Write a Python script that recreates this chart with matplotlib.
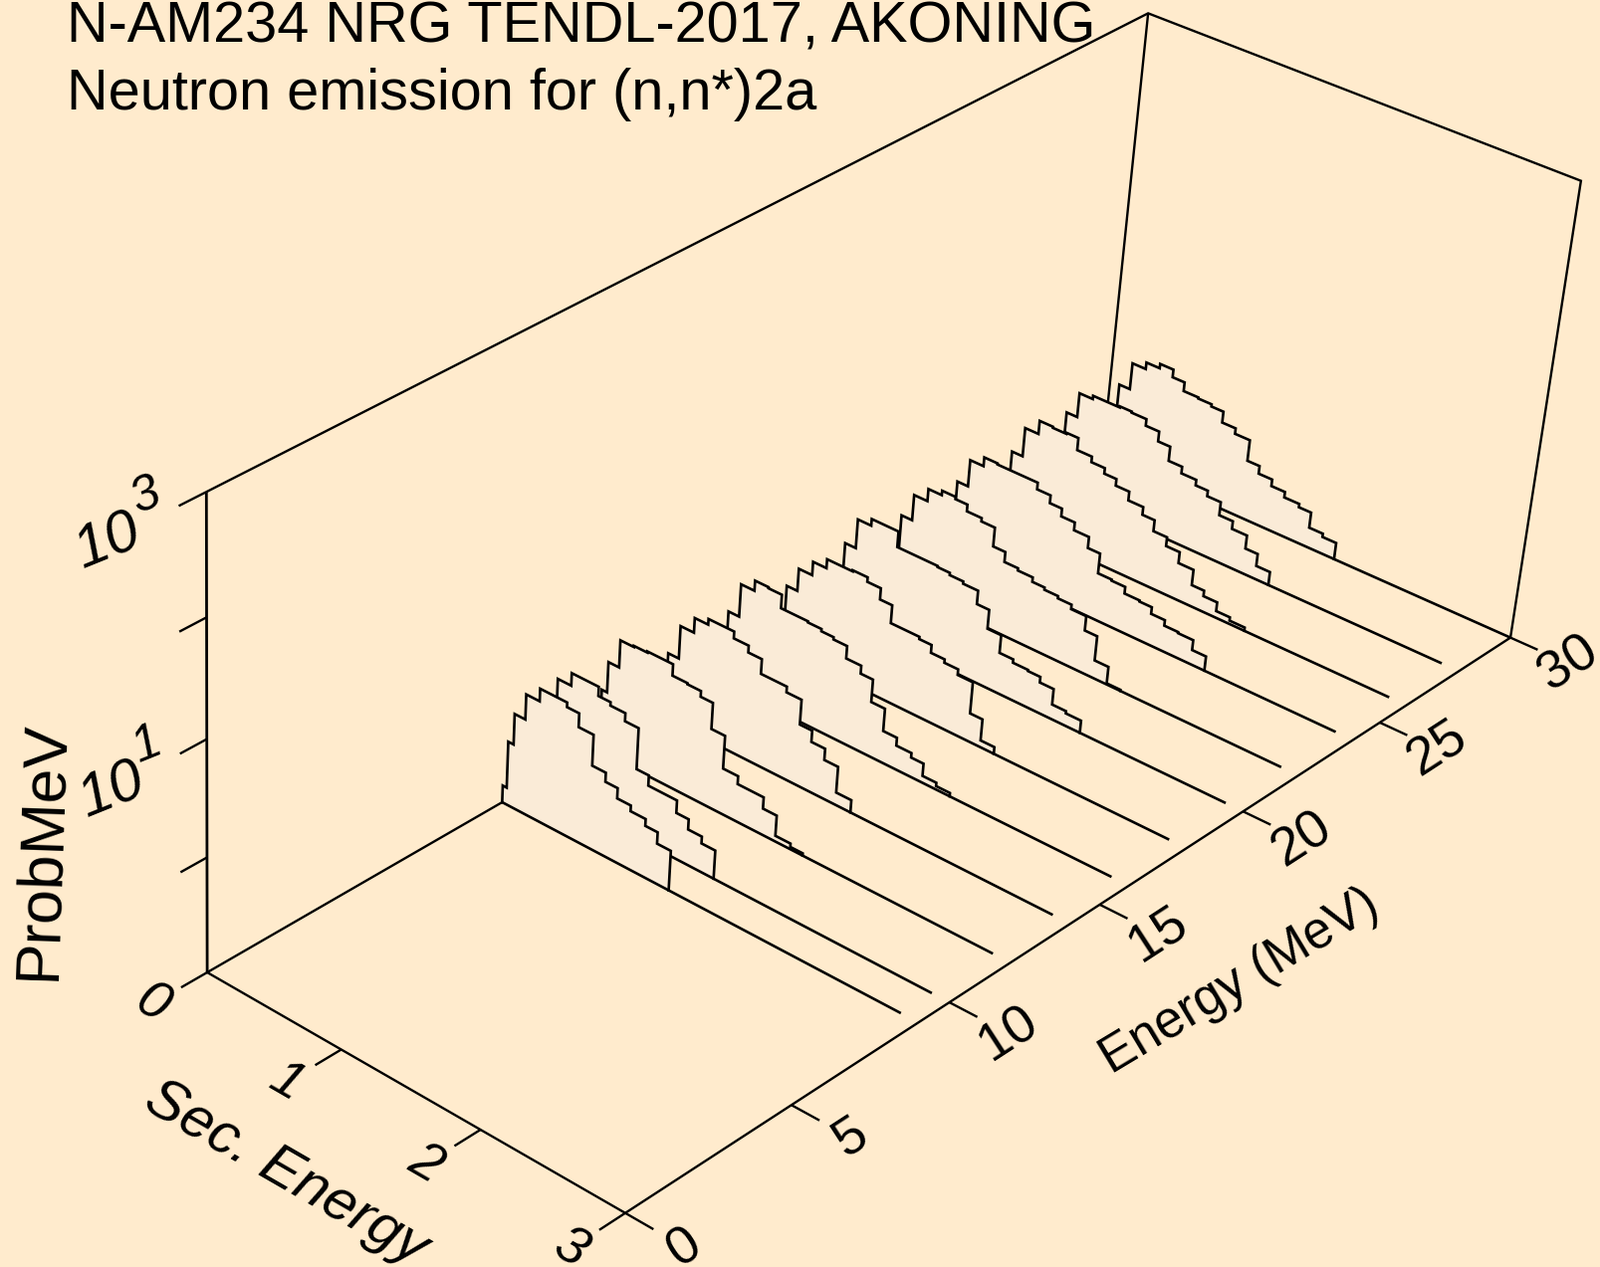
import numpy as np
import matplotlib
matplotlib.use("Agg")
import matplotlib.pyplot as plt

plt.rcParams['font.family'] = ['Liberation Sans', 'DejaVu Sans']

BG = '#FFEBCD'
FILL = '#FAEBD7'

# incident energies (MeV), back curve last
energies = [9, 10, 12, 14, 16, 18, 20, 22, 24, 26, 28, 30]

# secondary energy bin edges (MeV)
sec_edges = [0, .03, .07, .15, .25, .35, .45, .54, .65, .75, .84, .94, 1.05,
             1.14, 1.24, 1.34, 1.45, 1.54, 1.64, 1.74, 1.85, 1.95]
sec_end = 2.88

# log10(prob/MeV) per bin
lp_09 = [-.85, -.44, -.17, .05, .16, .16, .12, 0, -.27, -.35, -.44, -.49, -.55, -.65]
lp_10 = [-.85, -.44, -.15, .03, .14, .14, .06, .03, -.04, -.40, -.49, -.49, -.60, -.69, -.75]
lp_12 = [-.85, -.45, -.18, .06, .07, .08, .08, -.02, -.03, -.08, -.31, -.60, -.67, -.67, -.77, -.95, -.98]
lp_14 = [-.89, -.63, -.41, -.12, .01, .06, .06, 0, -.06, -.19, -.19, -.24, -.46, -.56, -.66, -.89]
lp_16 = [-.90, -.66, -.34, -.05, .04, .03, -.09, -.09, -.10, -.12, -.14, -.25, -.32, -.52, -.72, -.79, -.83, -.94, -.97]
lp_18 = [-.92, -.69, -.41, -.21, -.09, -.01, -.01, 0, -.04, -.14, -.30, -.30, -.32, -.39, -.42, -.47, -.75, -.94]
lp_20 = [-.92, -.69, -.32, -.06, 0, 0, -.14, -.14, -.14, -.15, -.17, -.19, -.31, -.48, -.64, -.67, -.68, -.73, -.87, -.89]
lp_22 = [-.92, -.69, -.36, -.13, -.02, .02, 0, -.06, -.09, -.26, -.35, -.37, -.41, -.43, -.45, -.49, -.62, -.84, -.99]
lp_24 = [-.90, -.67, -.34, -.10, -.02, -.03, -.03, -.03, -.09, -.16, -.23, -.30, -.40, -.58, -.59, -.65, -.66, -.72, -.77, -.78, -.87]
lp_26 = [-.90, -.67, -.35, -.09, .03, .02, .03, -.08, -.13, -.18, -.24, -.32, -.39, -.49, -.57, -.67, -.81, -.86, -.94, -.97]
lp_28 = [-.89, -.66, -.27, -.05, -.02, -.02, -.01, -.02, -.08, -.17, -.30, -.36, -.41, -.46, -.58, -.65, -.77, -.88]
lp_30 = [-.89, -.66, -.29, -.05, .01, .05, -.02, -.10, -.11, -.13, -.23, -.28, -.47, -.54, -.60, -.65, -.68, -.82, -.85]
curves = [lp_09, lp_10, lp_12, lp_14, lp_16, lp_18, lp_20, lp_22, lp_24, lp_26, lp_28, lp_30]

sec_ticks = [0, 1, 2, 3]
e_ticks = [0, 5, 10, 15, 20, 25, 30]
sec_max = 3.0
e_max = 30.0
lp_min = -1.0
lp_max = 3.0

# (sec, E, log10 p) -> picture pixel, the camera of the plot
calib = [
    ((0, 0, -1), (207.7, 976.6)),
    ((3, 0, -1), (626.7, 1219.3)),
    ((3, 30, -1), (1516.7, 640.0)),
    ((0, 30, -1), (1107.0, 459.0)),
    ((0, 0, 3), (207.7, 493.7)),
    ((0, 30, 3), (1153.0, 12.3)),
    ((3, 30, 3), (1587.6, 182.4)),
    ((3, 5, -1), (793.3, 1111.0)),
    ((3, 10, -1), (953.0, 1007.5)),
    ((3, 15, -1), (1107.0, 908.0)),
    ((3, 20, -1), (1250.0, 816.0)),
    ((3, 25, -1), (1385.0, 725.7)),
    ((1, 0, -1), (343.0, 1053.6)),
    ((2, 0, -1), (483.8, 1133.5)),
    ((0, 0, 2), (207.7, 620.7)),
    ((0, 0, 1), (207.7, 743.2)),
    ((0, 0, 0), (207.7, 862.6)),
]


def fit_camera():
    rows = []
    for (s, e, z), (u, v) in calib:
        X = [s / sec_max, e / e_max, (z - lp_min) / (lp_max - lp_min), 1.0]
        u, v = u / 1000, v / 1000
        rows.append(X + [0, 0, 0, 0] + [-u * c for c in X])
        rows.append([0, 0, 0, 0] + X + [-v * c for c in X])
    _, _, vt = np.linalg.svd(np.array(rows))
    return vt[-1].reshape(3, 4)


cam = fit_camera()


def project(s, e, z):
    s, e, z = np.broadcast_arrays(np.asarray(s, float), np.asarray(e, float), np.asarray(z, float))
    X = np.stack([s / sec_max, e / e_max, (z - lp_min) / (lp_max - lp_min), np.ones_like(s)])
    h = cam @ X
    return 1000 * h[0] / h[2], 1000 * h[1] / h[2]


def line(ax, s, e, z, zorder=1, lw=1.7):
    x, y = project(s, e, z)
    ax.plot(x, y, color='black', lw=lw, zorder=zorder, solid_joinstyle='miter', solid_capstyle='butt')


fig = plt.figure(figsize=(16.07, 12.73), dpi=100, facecolor=BG)
ax = fig.add_axes([0, 0, 1, 1])
ax.set_xlim(0, 1607)
ax.set_ylim(1273, 0)
ax.axis('off')

# box
line(ax, [0, 0], [0, 0], [lp_min, lp_max], lw=2.0)
line(ax, [0, 0, 3, 3], [0, 30, 30, 30], [lp_max, lp_max, lp_max, lp_min])
line(ax, [0, 0], [30, 30], [lp_max, lp_min])
line(ax, [0, 3, 3], [0, 0, 30], [lp_min, lp_min, lp_min])
line(ax, [0, 0], [0, 30], [lp_min, lp_min])

# curves, back one first so the front ones hide it
for i in range(len(energies) - 1, -1, -1):
    e = energies[i]
    lp = curves[i]
    n = len(lp)
    s_pts = [0.0]
    z_pts = [lp_min]
    for k in range(n):
        s_pts += [sec_edges[k], sec_edges[k + 1]]
        z_pts += [lp[k], lp[k]]
    s_pts.append(sec_edges[n])
    z_pts.append(lp_min)
    z = 2 + (len(energies) - i) * 2
    x, y = project(s_pts, e, z_pts)
    ax.fill(x, y, facecolor=FILL, edgecolor='none', zorder=z)
    ax.plot(x, y, color='black', lw=1.9, zorder=z + 1, solid_joinstyle='miter')
    end = sec_max if e == e_max else sec_end
    line(ax, [0, end], [e, e], [lp_min, lp_min], zorder=z + 1, lw=1.9)

# ticks and tick labels
tick_font = 39
for s in sec_ticks:
    line(ax, [s, s], [0, -0.76], [lp_min, lp_min])
    x, y = project(s, -1.6, lp_min)
    ax.text(x, y, str(s), fontsize=tick_font, style='italic', rotation=-30,
            ha='center', va='center', rotation_mode='anchor')
for e in e_ticks:
    line(ax, [sec_max, sec_max + 0.19], [e, e], [lp_min, lp_min])
    x, y = project(sec_max + 0.40, e, lp_min)
    ax.text(x, y, str(e), fontsize=tick_font, rotation=33,
            ha='center', va='center', rotation_mode='anchor')
for z in [0, 1, 2, 3]:
    line(ax, [0, 0], [0, -0.76], [z, z])

# the two labelled decades, mantissa and exponent set apart as in the original
ax.text(108, 545, '10', fontsize=43, style='italic', rotation=22,
        ha='center', va='center', rotation_mode='anchor')
ax.text(147, 499, '3', fontsize=36, style='italic', rotation=22,
        ha='center', va='center', rotation_mode='anchor')
ax.text(112, 795, '10', fontsize=43, style='italic', rotation=22,
        ha='center', va='center', rotation_mode='anchor')
ax.text(148, 749, '1', fontsize=36, style='italic', rotation=22,
        ha='center', va='center', rotation_mode='anchor')

# axis titles
ax.text(287, 1179, 'Sec. Energy', fontsize=42, style='italic', rotation=-30,
        ha='center', va='center', rotation_mode='anchor')
ax.text(1245, 986, 'Energy (MeV)', fontsize=37, rotation=31,
        ha='center', va='center', rotation_mode='anchor')
ax.text(42, 854, 'ProbMeV', fontsize=45, rotation=88,
        ha='center', va='center', rotation_mode='anchor')

# title
ax.text(67, 42, 'N-AM234 NRG TENDL-2017, AKONING', fontsize=41.5, ha='left', va='baseline')
ax.text(67, 110, 'Neutron emission for (n,n*)2a', fontsize=41.5, ha='left', va='baseline')

fig.savefig('out.png', dpi=100, facecolor=BG)
